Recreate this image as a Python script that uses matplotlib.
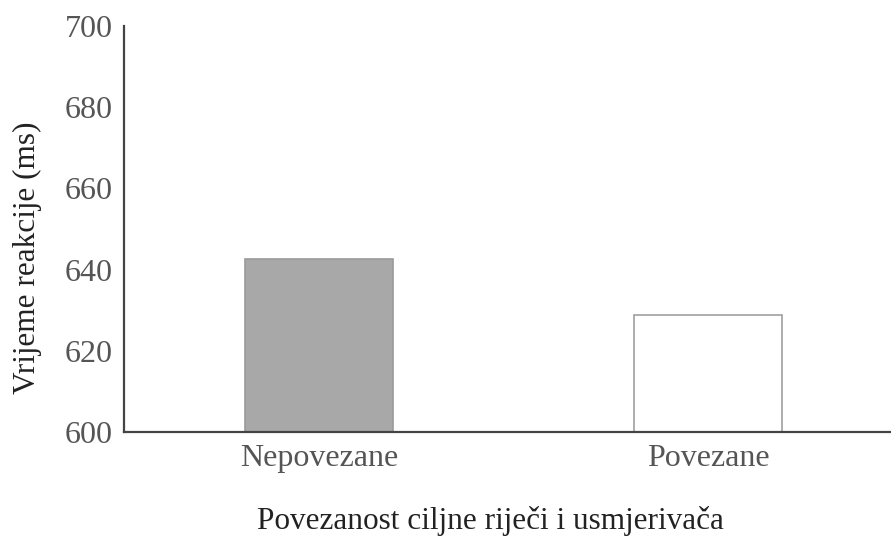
import matplotlib.pyplot as plt

# Data
categories = ['Nepovezane', 'Povezane']
reaction_times = [642.6, 628.8]
y_ticks = [600, 620, 640, 660, 680, 700]

bar_colors = ['#a8a8a8', '#ffffff']
edge_colors = ['#9a9a9a', '#a0a0a0']

plt.rcParams['font.family'] = ['Liberation Serif', 'DejaVu Serif']

fig = plt.figure(figsize=(8.91, 5.42), dpi=100)
ax = fig.add_axes([0.139, 0.203, 0.861, 0.749])

ax.bar(range(len(categories)), reaction_times, width=0.38, bottom=0,
       color=bar_colors, edgecolor=edge_colors, linewidth=1.2, zorder=2)

ax.set_ylim(600, 700)
ax.set_xlim(-0.501, 1.47)
ax.set_yticks(y_ticks)
ax.set_xticks(range(len(categories)))
ax.set_xticklabels(categories)

ax.tick_params(axis='both', length=0, labelsize=23, labelcolor='#555555')
ax.tick_params(axis='y', pad=8)
ax.tick_params(axis='x', pad=9)

for side in ['top', 'right']:
    ax.spines[side].set_visible(False)
for side in ['left', 'bottom']:
    ax.spines[side].set_color('#444444')
    ax.spines[side].set_linewidth(1.6)

fig.text(0.0303, 0.524, 'Vrijeme reakcije (ms)', rotation=90, ha='center',
         va='center', fontsize=22.5, color='#222222')
fig.text(0.55, 0.038, 'Povezanost ciljne riječi i usmjerivača', ha='center',
         va='center', fontsize=22.5, color='#222222')

fig.savefig('out.png', dpi=100)
